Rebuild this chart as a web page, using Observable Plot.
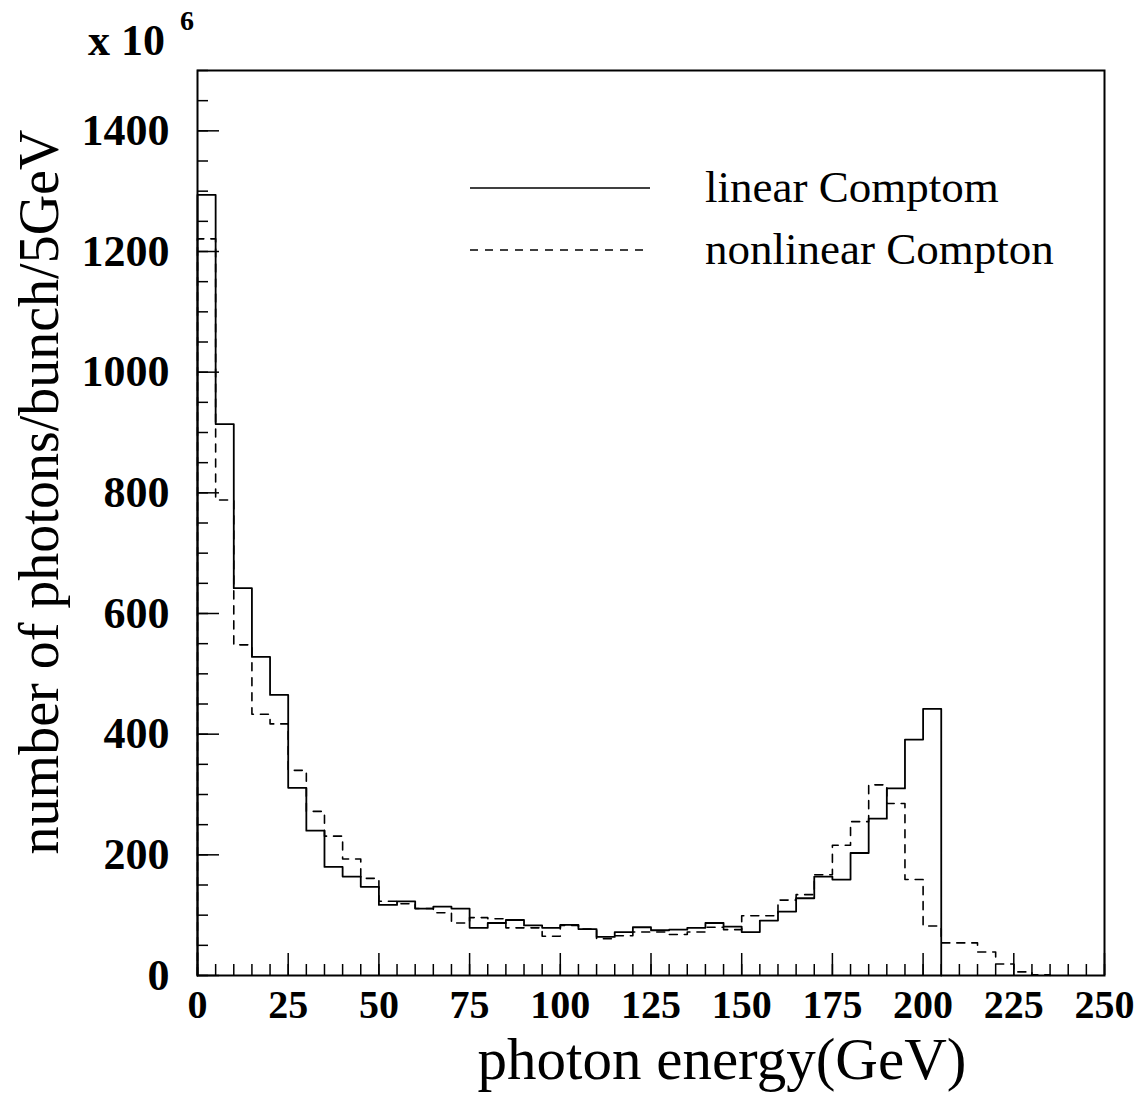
<!DOCTYPE html>
<html><head><meta charset="utf-8">
<script src="https://cdn.jsdelivr.net/npm/d3@7"></script>
<script src="https://cdn.jsdelivr.net/npm/@observablehq/plot@0.6"></script>
<style>
body{margin:0;background:#fff;}
#wrap{position:relative;width:1144px;height:1095px;}
#wrap > svg{position:absolute;left:0;top:0;}
</style></head><body><div id="wrap"></div>
<script>
// bin width in GeV; bins start at 0
const binWidth = 5;
// linear Compton (solid), units of 10^6 photons per bunch per 5 GeV, bins 0-5 ... 200-205
const linearValues = [1294, 914, 642, 528, 465, 311, 240, 180, 164, 147,
  117, 123, 111, 114, 111, 79, 87, 92, 83, 79,
  84, 77, 64, 72, 80, 75, 76, 79, 87, 81,
  72, 91, 106, 128, 164, 159, 203, 260, 310, 391,
  442];
// nonlinear Compton (dashed), bins 0-5 ... 230-235
const nonlinearValues = [1221, 788, 548, 433, 417, 340, 272, 231, 193, 161,
  123, 119, 111, 104, 87, 96, 94, 79, 79, 65,
  83, 77, 61, 66, 72, 72, 68, 72, 80, 76,
  99, 99, 125, 134, 167, 216, 255, 316, 285, 159,
  82, 54, 54, 39, 19, 6, 1];
const xMajorTicks = [0, 25, 50, 75, 100, 125, 150, 175, 200, 225, 250];
const xMinorTicks = d3.range(0, 251, 5);
const yMajorTicks = [0, 200, 400, 600, 800, 1000, 1200, 1400];
const yMinorTicks = d3.range(0, 1501, 50);
const xTitle = "photon energy(GeV)";
const yTitle = "number of photons/bunch/5GeV";
const legendLabels = ["linear Comptom", "nonlinear Compton"];
const scaleBase = "x 10";
const scaleExp = "6";

function outline(values) {
  const pts = [{x: 0, y: 0}];
  values.forEach((v, i) => pts.push({x: i * binWidth, y: v}));
  pts.push({x: values.length * binWidth, y: 0});
  return pts;
}

const serif = "'Liberation Serif', 'Times New Roman', Times, serif";
const plot = Plot.plot({
  width: 1144, height: 1095,
  marginLeft: 197, marginRight: 40, marginTop: 70, marginBottom: 120,
  x: {domain: [0, 250]},
  y: {domain: [0, 1500]},
  style: {fontFamily: serif, background: "white", color: "black"},
  marks: [
    Plot.axisX({ticks: xMinorTicks, tickSize: -11, tickFormat: () => "", label: null, strokeWidth: 1.5}),
    Plot.axisX({ticks: xMajorTicks, tickSize: -22, tickPadding: 36, label: null, strokeWidth: 1.5,
      fontSize: 40, fontWeight: "bold", tickFormat: d => String(d)}),
    Plot.axisY({ticks: yMinorTicks, tickSize: -11, tickFormat: () => "", label: null, strokeWidth: 1.5}),
    Plot.axisY({ticks: yMajorTicks, tickSize: -22, tickPadding: 50, label: null, strokeWidth: 1.5,
      fontSize: 44, fontWeight: "bold", tickFormat: d => String(d)}),
    Plot.line(outline(nonlinearValues), {x: "x", y: "y", curve: "step-after", stroke: "black",
      strokeWidth: 1.6, strokeDasharray: "8,7"}),
    Plot.line(outline(linearValues), {x: "x", y: "y", curve: "step-after", stroke: "black", strokeWidth: 1.8}),
    Plot.frame({stroke: "black", strokeWidth: 2})
  ]
});
const wrap = document.getElementById("wrap");
wrap.appendChild(plot);

// overlay: titles, legend, exponent
const svg = d3.create("svg").attr("width", 1144).attr("height", 1095)
  .style("font-family", serif).style("pointer-events", "none");
svg.append("text").attr("x", 722).attr("y", 1079).attr("text-anchor", "middle")
  .attr("font-size", 59).text(xTitle);
svg.append("text").attr("transform", "translate(58,492) rotate(-90)").attr("text-anchor", "middle")
  .attr("font-size", 56).text(yTitle);
svg.append("text").attr("x", 88).attr("y", 55).attr("font-size", 44).attr("font-weight", "bold").text(scaleBase);
svg.append("text").attr("x", 180).attr("y", 30).attr("font-size", 28).attr("font-weight", "bold").text(scaleExp);
// legend
const leg = [{y: 188, dash: null}, {y: 250, dash: "8,7"}];
leg.forEach((d, i) => {
  svg.append("line").attr("x1", 470).attr("x2", 650).attr("y1", d.y).attr("y2", d.y)
    .attr("stroke", "black").attr("stroke-width", 1.6).attr("stroke-dasharray", d.dash);
  svg.append("text").attr("x", 705).attr("y", d.y + 14).attr("font-size", 45).text(legendLabels[i]);
});
wrap.appendChild(svg.node());
</script>
</body></html>
